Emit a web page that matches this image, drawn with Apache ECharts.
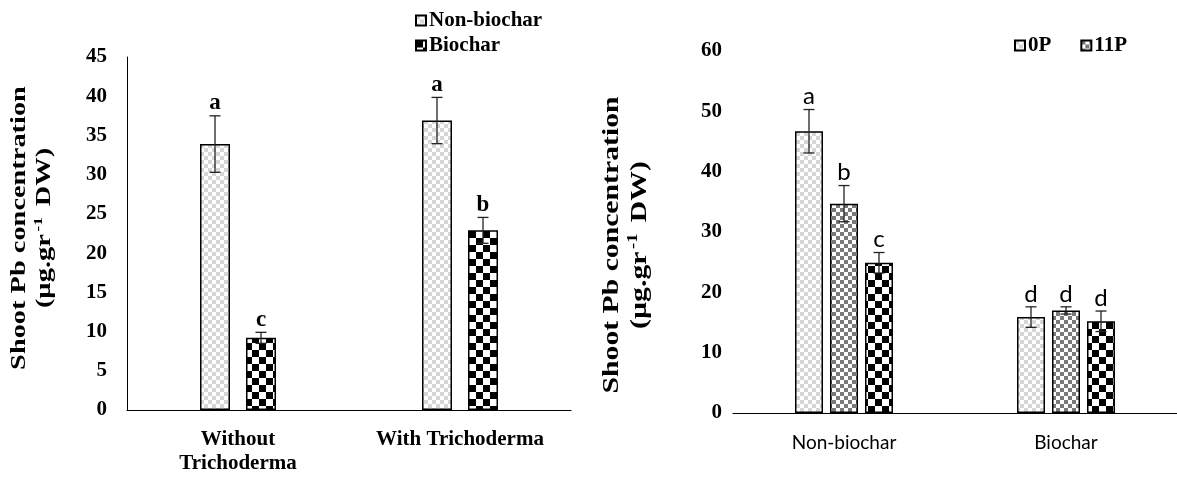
<!DOCTYPE html>
<html><head><meta charset="utf-8">
<script src="https://cdn.jsdelivr.net/npm/echarts@6/dist/echarts.min.js"></script>
<style>html,body{margin:0;padding:0;background:#fff}#c{width:1177px;height:477px}</style>
</head><body><div id="c"></div>
<script>
// ---- Left chart data ----
const leftCategories = ['Without\nTrichoderma', 'With Trichoderma'];
const leftSeriesNames = ['Non-biochar', 'Biochar'];
const leftNonBiochar = [33.9, 36.9];
const leftNonBiocharErr = [3.6, 2.95];
const leftNonBiocharLetters = ['a', 'a'];
const leftBiochar = [9.2, 22.9];
const leftBiocharErr = [0.7, 1.65];
const leftBiocharLetters = ['c', 'b'];
const leftYTicks = [0, 5, 10, 15, 20, 25, 30, 35, 40, 45];

// ---- Right chart data ----
const rightCategories = ['Non-biochar', 'Biochar'];
const rightSeriesNames = ['0P', '11P', '22P'];
const right0P = [46.7, 15.9];
const right0PErr = [3.6, 1.7];
const right0PLetters = ['a', 'd'];
const right11P = [34.7, 17.0];
const right11PErr = [3.0, 0.6];
const right11PLetters = ['b', 'd'];
const right22P = [24.9, 15.2];
const right22PErr = [1.7, 1.7];
const right22PLetters = ['c', 'd'];
const rightYTicks = [0, 10, 20, 30, 40, 50, 60];

const yAxisTitle = '{a|Shoot Pb concentration}\n{a|(µg.gr}{s|-1}{a| DW)}';

function checker(cell, c1, c2) {
  const cv = document.createElement('canvas');
  cv.width = cell * 2; cv.height = cell * 2;
  const g = cv.getContext('2d');
  g.fillStyle = c2; g.fillRect(0, 0, cell * 2, cell * 2);
  g.fillStyle = c1; g.fillRect(0, 0, cell, cell); g.fillRect(cell, cell, cell, cell);
  return { image: cv, repeat: 'repeat' };
}
const patLight = checker(4, '#d6d6d6', '#ffffff');
const patMid = checker(4, '#7a7a7a', '#ffffff');
const patBig = checker(7, '#000000', '#ffffff');

const SERIF = '"Liberation Serif", "DejaVu Serif", serif';
const SANS = 'Lato, "Liberation Sans", sans-serif';

function barSeries(name, data, axis, pat, bw, gap) {
  return {
    name, type: 'bar', data, xAxisIndex: axis, yAxisIndex: axis,
    barWidth: bw, barGap: gap,
    itemStyle: { color: pat, borderColor: '#000', borderWidth: 1.5 },
    emphasis: { disabled: true }
  };
}
function errSeries(axis, vals, errs, letters, idx, n, bw, gapPx, font) {
  return {
    type: 'custom', xAxisIndex: axis, yAxisIndex: axis, z: 5, silent: true,
    data: vals.map((v, i) => [i, v, errs[i]]),
    renderItem(params, api) {
      const c = api.value(0), v = api.value(1), e = api.value(2);
      const off = (idx - (n - 1) / 2) * (bw + gapPx);
      const top = api.coord([c, v + e]);
      const bot = api.coord([c, v - e]);
      const x = top[0] + off;
      const cap = 5.5;
      const ls = { stroke: '#222', lineWidth: 1.3 };
      return { type: 'group', children: [
        { type: 'line', shape: { x1: x, y1: top[1], x2: x, y2: bot[1] }, style: ls },
        { type: 'line', shape: { x1: x - cap, y1: top[1], x2: x + cap, y2: top[1] }, style: ls },
        { type: 'line', shape: { x1: x - cap, y1: bot[1], x2: x + cap, y2: bot[1] }, style: ls },
        { type: 'text', x: x, y: top[1] - 1, style: Object.assign({
            text: letters[params.dataIndex], align: 'center', verticalAlign: 'bottom',
            textAlign: 'center', textVerticalAlign: 'bottom', fill: '#000' }, font) }
      ]};
    }
  };
}

function axisTitle(x, y, size, lh, stretch) {
  return {
    type: 'text', x: x, y: y, rotation: Math.PI / 2, scaleX: stretch, scaleY: 1, silent: true,
    style: {
      text: yAxisTitle, align: 'center', verticalAlign: 'middle', lineHeight: lh,
      rich: {
        a: { fontFamily: SERIF, fontWeight: 'bold', fontSize: size, fill: '#000', lineHeight: lh },
        s: { fontFamily: SERIF, fontWeight: 'bold', fontSize: Math.round(size * 0.6), fill: '#000', lineHeight: lh, verticalAlign: 'top', padding: [0, 3, 8, 2] }
      }
    }
  };
}

const LBW = 30, LGAP = 16, RBW = 28, RGAP = 7;
const leftFont = { fontFamily: SERIF, fontWeight: 'bold', fontSize: 23 };
const rightFont = { fontFamily: SANS, fontWeight: 'normal', fontSize: 24 };
const legendText = { fontFamily: SERIF, fontWeight: 'bold', fontSize: 21, color: '#000', padding: [0, 0, 0, -2] };

const chart = echarts.init(document.getElementById('c'));
chart.setOption({
  animation: false,
  backgroundColor: '#fff',
  graphic: [
    axisTitle(32, 228, 21.5, 25, 1.32),
    axisTitle(626, 245, 22.5, 28, 1.32)
  ],
  legend: [
    { data: [leftSeriesNames[0], leftSeriesNames[1]], orient: 'vertical', left: 415, top: 10, padding: 0,
      itemWidth: 10, itemHeight: 10, itemGap: 4, icon: 'rect', selectedMode: false, textStyle: legendText },
    { data: [rightSeriesNames[0], rightSeriesNames[1]], orient: 'horizontal', left: 1014, top: 35, padding: 0,
      itemWidth: 10, itemHeight: 10, itemGap: 29, icon: 'rect', selectedMode: false, textStyle: legendText }
  ],
  grid: [
    { left: 127, top: 57, width: 444, bottom: 67 },
    { left: 733, top: 51, width: 450, bottom: 64 }
  ],
  xAxis: [
    { type: 'category', gridIndex: 0, data: leftCategories,
      axisLine: { lineStyle: { color: '#000', width: 1 } }, axisTick: { show: false },
      axisLabel: { color: '#000', fontFamily: SERIF, fontWeight: 'bold', fontSize: 21, lineHeight: 24, margin: 18 } },
    { type: 'category', gridIndex: 1, data: rightCategories,
      axisLine: { lineStyle: { color: '#000', width: 1 } }, axisTick: { show: false },
      axisLabel: { color: '#000', fontFamily: SANS, fontSize: 19, margin: 20 } }
  ],
  yAxis: [
    { type: 'value', gridIndex: 0, min: leftYTicks[0], max: leftYTicks[leftYTicks.length - 1],
      interval: leftYTicks[1] - leftYTicks[0],
      axisLine: { show: true, lineStyle: { color: '#000', width: 1 } }, axisTick: { show: false },
      splitLine: { show: false },
      axisLabel: { color: '#000', fontFamily: SERIF, fontWeight: 'bold', fontSize: 21, margin: 20 } },
    { type: 'value', gridIndex: 1, min: rightYTicks[0], max: rightYTicks[rightYTicks.length - 1],
      interval: rightYTicks[1] - rightYTicks[0],
      axisLine: { show: false }, axisTick: { show: false }, splitLine: { show: false },
      axisLabel: { color: '#000', fontFamily: SERIF, fontWeight: 'bold', fontSize: 21, margin: 11 } }
  ],
  series: [
    barSeries(leftSeriesNames[0], leftNonBiochar, 0, patLight, LBW, (LGAP / LBW * 100) + '%'),
    barSeries(leftSeriesNames[1], leftBiochar, 0, patBig, LBW, (LGAP / LBW * 100) + '%'),
    errSeries(0, leftNonBiochar, leftNonBiocharErr, leftNonBiocharLetters, 0, 2, LBW, LGAP, leftFont),
    errSeries(0, leftBiochar, leftBiocharErr, leftBiocharLetters, 1, 2, LBW, LGAP, leftFont),
    barSeries(rightSeriesNames[0], right0P, 1, patLight, RBW, (RGAP / RBW * 100) + '%'),
    barSeries(rightSeriesNames[1], right11P, 1, patMid, RBW, (RGAP / RBW * 100) + '%'),
    barSeries(rightSeriesNames[2], right22P, 1, patBig, RBW, (RGAP / RBW * 100) + '%'),
    errSeries(1, right0P, right0PErr, right0PLetters, 0, 3, RBW, RGAP, rightFont),
    errSeries(1, right11P, right11PErr, right11PLetters, 1, 3, RBW, RGAP, rightFont),
    errSeries(1, right22P, right22PErr, right22PLetters, 2, 3, RBW, RGAP, rightFont)
  ]
});
</script></body></html>
